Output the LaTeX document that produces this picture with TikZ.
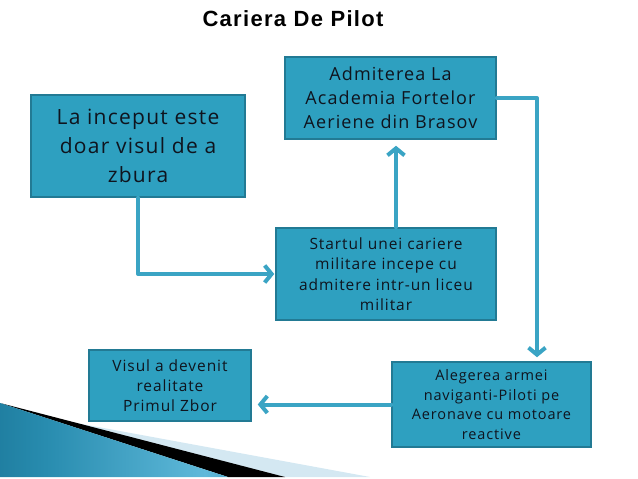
\documentclass[tikz,border=0pt]{standalone}
\usepackage{fontspec}
\setmainfont{Open Sans}[LetterSpace=6]
\newfontfamily\titlefont{Liberation Sans}[LetterSpace=6]
\usetikzlibrary{arrows.meta}

\definecolor{boxfill}{RGB}{46,160,192}
\definecolor{boxline}{RGB}{34,122,148}
\definecolor{arrcol}{RGB}{58,164,196}
\definecolor{txtcol}{RGB}{15,20,30}
\definecolor{ribdark}{RGB}{12,96,128}
\definecolor{ribmid}{RGB}{40,140,175}
\definecolor{riblight}{RGB}{95,185,218}
\definecolor{ribpale}{RGB}{212,232,242}

\pgfdeclarehorizontalshading{ribbon}{100bp}{color(0bp)=(ribdark); color(35bp)=(ribmid);
  color(70bp)=(riblight); color(100bp)=(ribdark)}

\tikzset{
  pasbox/.style={draw=boxline, line width=1.5pt, fill=boxfill, text=txtcol,
    align=center, inner sep=0pt},
  arr/.style={draw=arrcol, line width=4pt, line cap=round, line join=round,
    -{Straight Barb[length=7pt,width=17pt,line width=4pt]}}
}

\begin{document}
\begin{tikzpicture}[x=1pt,y=-1pt]
  % cadrul paginii (coordonate in pixeli, y in jos)
  \useasboundingbox (0,0) rectangle (638,479);

  % panglica decorativa din colt
  \fill[ribpale] (60,420)--(370,477)--(285,477)--cycle;
  \fill[black] (0,403)--(285,477)--(228,477)--cycle;
  \shade[shading=ribbon] (0,403)--(228,477)--(0,477)--cycle;

  % titlul
  \node[font=\titlefont\bfseries\fontsize{22}{24}\selectfont, anchor=base] (titlu) at (293,27) {Cariera De Pilot};

  % casetele
  \node[pasbox, minimum width=214pt, minimum height=102pt,
        font=\fontsize{21}{29}\selectfont] (vis) at (138,146)
        {La inceput este\\doar visul de a\\zbura};
  \node[pasbox, minimum width=211pt, minimum height=82pt,
        font=\fontsize{18}{24}\selectfont] (acad) at (390.5,98)
        {Admiterea La\\Academia Fortelor\\Aeriene din Brasov};
  \node[pasbox, minimum width=220pt, minimum height=92pt,
        font=\fontsize{15.5}{20.5}\selectfont] (liceu) at (386,274)
        {Startul unei cariere\\militare incepe cu\\admitere intr-un liceu\\militar};
  \node[pasbox, minimum width=199pt, minimum height=85pt,
        font=\fontsize{14.5}{19.5}\selectfont] (arma) at (491.5,404.5)
        {Alegerea armei\\naviganti-Piloti pe\\Aeronave cu motoare\\reactive};
  \node[pasbox, minimum width=162pt, minimum height=71pt,
        font=\fontsize{15.5}{20}\selectfont] (zbor) at (170,385.5)
        {Visul a devenit\\realitate\\Primul Zbor};

  % legaturile
  \draw[arr, shorten >=1pt] (vis.south) |- (liceu.west);
  \draw[arr, shorten >=6pt] ([xshift=10pt]liceu.north) -- ([xshift=10pt]liceu.north |- acad.south);
  \draw[arr, shorten >=4pt] (acad.east) -| ([xshift=45.5pt]arma.north);
  \draw[arr, shorten >=6pt] (arma.west) -- (arma.west -| zbor.east);
\end{tikzpicture}
\end{document}
